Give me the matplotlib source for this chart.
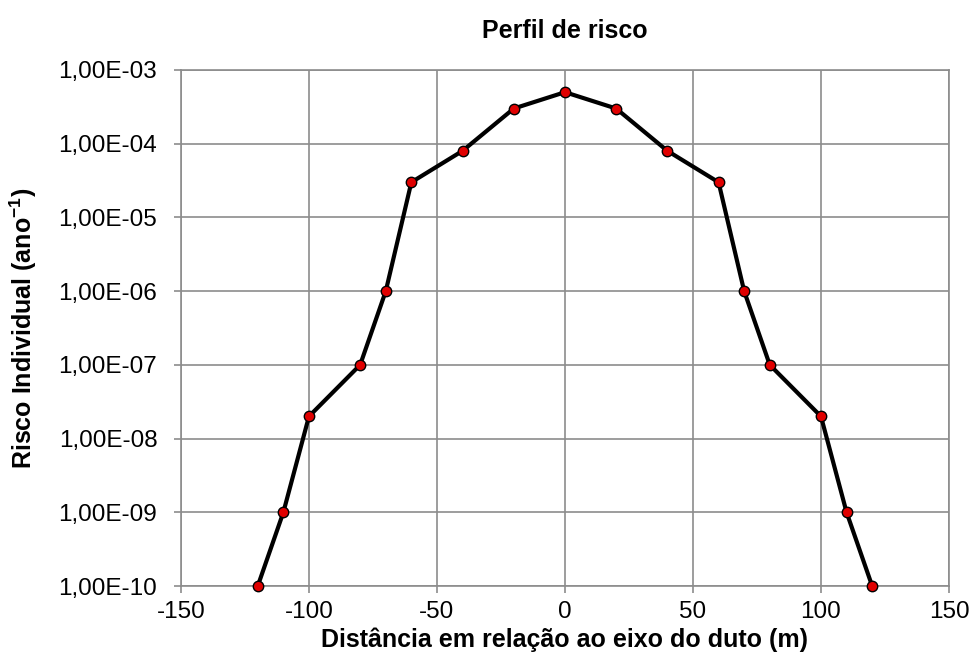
import matplotlib
matplotlib.use("Agg")
import matplotlib.pyplot as plt
from matplotlib.ticker import FuncFormatter, FixedLocator, NullLocator

plt.rcParams['font.family'] = ['Liberation Sans', 'DejaVu Sans']
plt.rcParams['mathtext.fontset'] = 'custom'
plt.rcParams['mathtext.rm'] = 'Liberation Sans:bold'
plt.rcParams['mathtext.bf'] = 'Liberation Sans:bold'
plt.rcParams['axes.unicode_minus'] = False

# dados
distancia = [-120, -110, -100, -80, -70, -60, -40, -20, 0, 20, 40, 60, 70, 80, 100, 110, 120]
risco = [1e-10, 1e-9, 2e-8, 1e-7, 1e-6, 3e-5, 8e-5, 3e-4, 5e-4, 3e-4, 8e-5, 3e-5, 1e-6, 1e-7, 2e-8, 1e-9, 1e-10]
xticks = [-150, -100, -50, 0, 50, 100, 150]
yticks = [1e-10, 1e-9, 1e-8, 1e-7, 1e-6, 1e-5, 1e-4, 1e-3]


def fmt_sci(v, pos):
    s = "%.2E" % v
    mant, exp = s.split("E")
    e = int(exp)
    return "%sE%s%02d" % (mant.replace(".", ","), "-" if e < 0 else "+", abs(e))


fig = plt.figure(figsize=(9.75, 6.66), dpi=100)
ax = fig.add_axes([0.1856, 0.1201, 0.7877, 0.7748])

ax.plot(distancia, risco, color='black', lw=3, marker='o', ms=7.5,
        mfc='#e00000', mec='black', mew=1, zorder=3, clip_on=False)

ax.set_yscale('log')
ax.set_xlim(-150, 150)
ax.set_ylim(1e-10, 1e-3)
ax.xaxis.set_major_locator(FixedLocator(xticks))
ax.yaxis.set_major_locator(FixedLocator(yticks))
ax.yaxis.set_minor_locator(NullLocator())
ax.yaxis.set_major_formatter(FuncFormatter(fmt_sci))

ax.grid(True, color='#8c8c8c', lw=1.2)
ax.set_axisbelow(True)
for sp in ax.spines.values():
    sp.set_color('#8c8c8c')
    sp.set_linewidth(1.2)
ax.tick_params(axis='both', colors='#8c8c8c', length=5, width=1.2,
               labelcolor='black', labelsize=17.5)
ax.tick_params(axis='x', pad=6)
ax.tick_params(axis='y', pad=12)

ax.set_title('Perfil de risco', fontsize=18, fontweight='bold', pad=23)
ax.set_xlabel('Distância em relação ao eixo do duto (m)', fontsize=18,
              fontweight='bold', labelpad=3)
ax.set_ylabel(r'Risco Individual (ano$^{-1}$)', fontsize=18,
              fontweight='bold', labelpad=14)

fig.savefig('out.png', dpi=100)
